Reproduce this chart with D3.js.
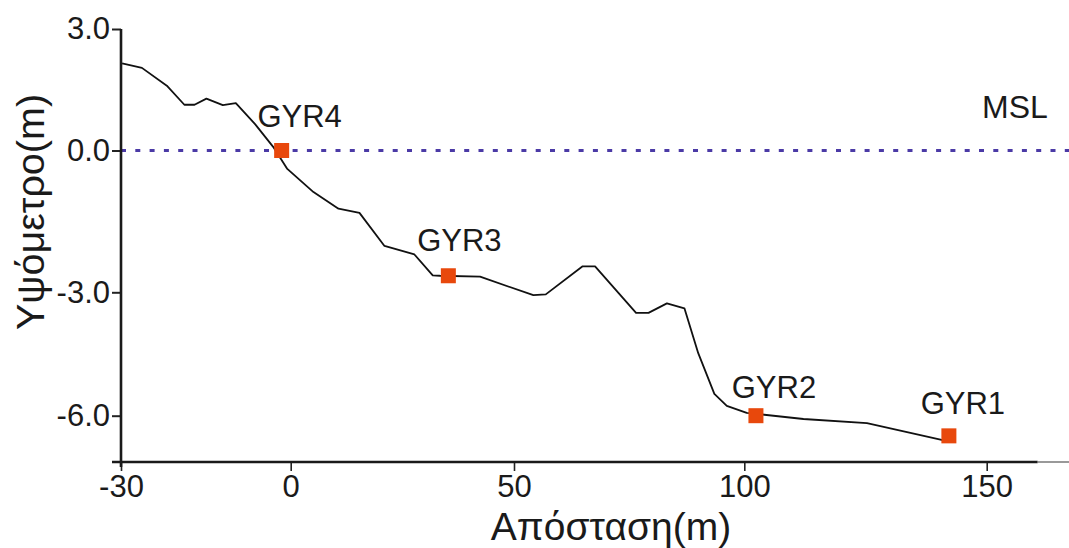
<!DOCTYPE html>
<html>
<head>
<meta charset="utf-8">
<script src="https://cdn.jsdelivr.net/npm/d3@7"></script>
<style>
  body { margin: 0; background: #fff; }
  svg { display: block; }
  text { font-family: "Liberation Sans", Arial, Helvetica, sans-serif; fill: #1a1a1a; }
</style>
</head>
<body>
<svg id="chart" width="1069" height="548"></svg>
<script>
// Surveyed ground profile along the transect (distance in m, elevation in m)
const profileDistance = [-29.8, -26.3, -21.9, -18.8, -17.0, -14.9, -12.0, -9.7, -6.3, -3.1,
  -0.6, 5.1, 10.7, 15.4, 21.0, 27.7, 31.8, 33.4, 42.4, 54.2, 56.9, 64.9, 67.6, 76.5, 79.2,
  83.2, 87.0, 90.0, 93.5, 96.2, 100.5, 112.2, 125.3, 142.3];
const profileElevation = [2.15, 2.04, 1.60, 1.13, 1.13, 1.28, 1.12, 1.17, 0.65, 0.09,
  -0.39, -0.88, -1.23, -1.32, -2.02, -2.20, -2.64, -2.65, -2.67, -3.07, -3.05, -2.45, -2.45,
  -3.50, -3.50, -3.27, -3.39, -4.48, -5.47, -5.76, -5.93, -6.08, -6.18, -6.63];

// Sampling stations
const stationNames = ["GYR4", "GYR3", "GYR2", "GYR1"];
const stationDistance = [-1.6, 35.3, 102.4, 142.2];
const stationElevation = [0.0, -2.65, -6.0, -6.49];

// Axis ticks and reference level
const xTicks = [-30, 0, 50, 100, 150];
const yTicks = [3, 0, -3, -6];
const xAxisEnd = 160.5;
const mslLevel = 0;
const mslLabel = "MSL";
const xTitle = "Απόσταση(m)";
const yTitle = "Υψόμετρο(m)";

// ---- layout ----
const W = 1069, H = 548;
const axisY = 462;
const svg = d3.select("#chart");

// piecewise-linear scales, one knot per labelled tick
const x = d3.scaleLinear().domain(xTicks).range([121, 290.7, 514, 744.3, 986.7]);
const y = d3.scaleLinear().domain(yTicks).range([29, 150.5, 292.3, 415.7]);

// mean sea level reference line
svg.append("line")
  .attr("x1", x(xTicks[0])).attr("x2", W)
  .attr("y1", y(mslLevel)).attr("y2", y(mslLevel))
  .attr("stroke", "#4b3aa6").attr("stroke-width", 3)
  .attr("stroke-dasharray", "5 9.3");

svg.append("text")
  .attr("x", 1015).attr("y", 118)
  .attr("text-anchor", "middle")
  .style("font-size", "32px")
  .text(mslLabel);

// ground profile
const line = d3.line().x(d => x(d[0])).y(d => y(d[1]));
svg.append("path")
  .datum(d3.zip(profileDistance, profileElevation))
  .attr("d", line)
  .attr("fill", "none")
  .attr("stroke", "#111")
  .attr("stroke-width", 1.8)
  .attr("stroke-linejoin", "round");

// x axis
const xAxis = d3.axisBottom(x)
  .tickValues(xTicks)
  .tickSize(9)
  .tickPadding(4)
  .tickFormat(d => String(d));
const gx = svg.append("g").attr("transform", `translate(0,${axisY})`).call(xAxis);
gx.select(".domain").remove();
gx.selectAll(".tick line").attr("stroke", "#222").attr("stroke-width", 1.6);
gx.selectAll(".tick text").style("font-size", "31px").attr("fill", "#1a1a1a");
svg.append("line")
  .attr("x1", x(xTicks[0]) - 9).attr("x2", x(xAxisEnd))
  .attr("y1", axisY).attr("y2", axisY)
  .attr("stroke", "#1a1a1a").attr("stroke-width", 2.6);
svg.append("line")
  .attr("x1", x(xAxisEnd)).attr("x2", W)
  .attr("y1", axisY).attr("y2", axisY)
  .attr("stroke", "#555").attr("stroke-width", 1.2);

// y axis
const yAxis = d3.axisLeft(y)
  .tickValues(yTicks)
  .tickSize(9)
  .tickPadding(2)
  .tickFormat(d => d.toFixed(1));
const gy = svg.append("g").attr("transform", `translate(${x(xTicks[0])},0)`).call(yAxis);
gy.select(".domain").remove();
gy.selectAll(".tick line").attr("stroke", "#222").attr("stroke-width", 2);
gy.selectAll(".tick text").style("font-size", "31px").attr("fill", "#1a1a1a");
svg.append("line")
  .attr("x1", x(xTicks[0])).attr("x2", x(xTicks[0]))
  .attr("y1", y(yTicks[0])).attr("y2", axisY + 5)
  .attr("stroke", "#1a1a1a").attr("stroke-width", 2.6);

// station markers and labels
const stations = stationNames.map((n, i) => ({ name: n, d: stationDistance[i], e: stationElevation[i] }));
const labelShift = { GYR4: [18, -24], GYR3: [11, -25], GYR2: [18, -18], GYR1: [14, -22] };
const mk = 15;
svg.selectAll("rect.station").data(stations).join("rect")
  .attr("class", "station")
  .attr("x", d => x(d.d) - mk / 2).attr("y", d => y(d.e) - mk / 2)
  .attr("width", mk).attr("height", mk)
  .attr("fill", "#e8480c");
svg.selectAll("text.station").data(stations).join("text")
  .attr("class", "station")
  .attr("x", d => x(d.d) + labelShift[d.name][0])
  .attr("y", d => y(d.e) + labelShift[d.name][1])
  .attr("text-anchor", "middle")
  .style("font-size", "31px")
  .text(d => d.name);

// axis titles
svg.append("text")
  .attr("x", 611).attr("y", 540)
  .attr("text-anchor", "middle")
  .style("font-size", "39px")
  .text(xTitle);
svg.append("text")
  .attr("transform", "translate(44,212) rotate(-90)")
  .attr("text-anchor", "middle")
  .style("font-size", "39.5px")
  .text(yTitle);
</script>
</body>
</html>
